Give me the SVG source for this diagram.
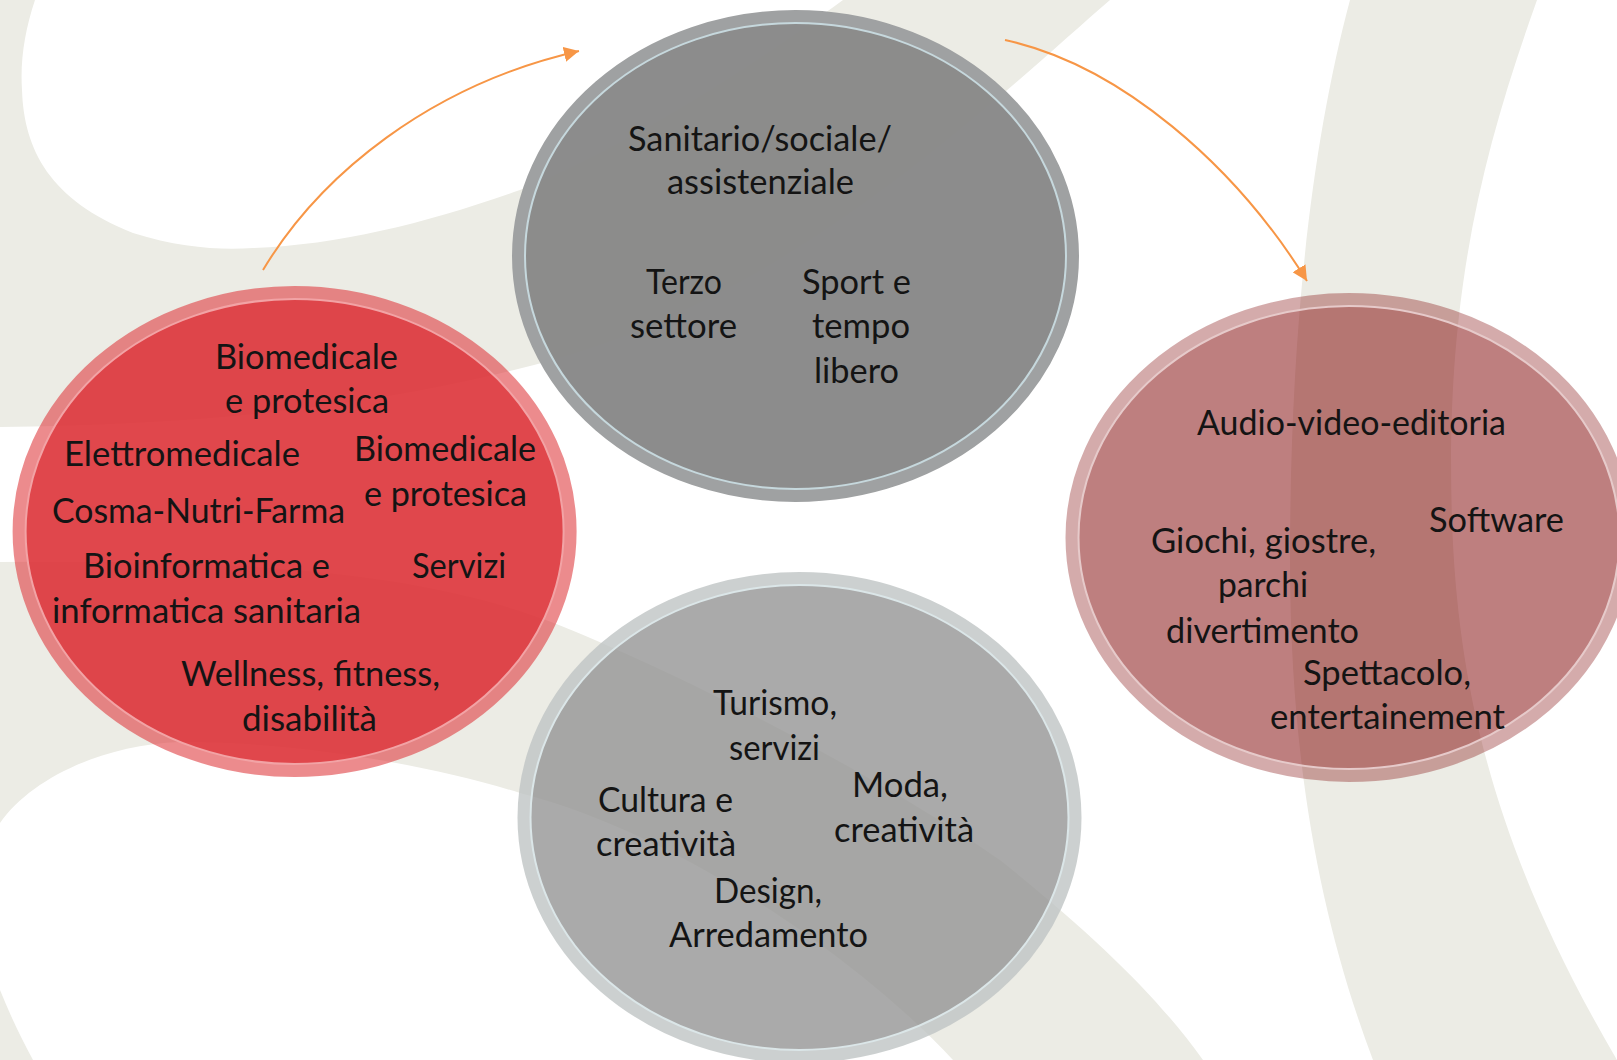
<svg xmlns="http://www.w3.org/2000/svg" width="1617" height="1060" viewBox="0 0 1617 1060">
<style>
.bg{fill:#ecece5;stroke:none}
.t{font-family:Lato,"Open Sans","Liberation Sans",sans-serif;font-size:34px;fill:#141414}
.ring{fill:none;stroke-width:13}
.inner{stroke-width:2}
.red .ring{stroke:#df3d41;stroke-opacity:.6}
.red .inner{fill:#dd3338;fill-opacity:.9;stroke:#f2a3a5}
.gtop .ring{stroke:#9fa1a2}
.gtop .inner{fill:#878787;fill-opacity:.96;stroke:#c6d8dd}
.rose .ring{stroke:#7d0000;stroke-opacity:.33}
.rose .inner{fill:#7d0000;fill-opacity:.5;stroke:#e6caca}
.gbot .ring{stroke:#bfc4c4;stroke-opacity:.8}
.gbot .inner{fill:#959595;fill-opacity:.8;stroke:#dbe6e8}
.arrow{fill:none;stroke:#f79646;stroke-width:2;marker-end:url(#ah)}
</style>
<defs>
<marker id="ah" viewBox="0 0 10 10" refX="10" refY="5" markerUnits="userSpaceOnUse" markerWidth="15" markerHeight="15" orient="auto">
<path d="M0,0 L10,5 L0,10 Z" fill="#f79646"/>
</marker>
</defs>
<rect width="1617" height="1060" fill="#ffffff"/>
<g id="background">
<path class="bg" d="M0,0 L35,0 C25,30 20,60 22,90 C24,150 50,200 133,233 C180,248 220,250 253,248 C340,245 430,222 520,190 C640,140 760,60 843,0 L1110,0 C1000,95 800,290 560,358 C380,408 200,425 0,427 Z"/>
<path class="bg" d="M0,562 C200,560 400,565 546,620 C700,680 900,790 1000,860 C1100,940 1160,1000 1203,1060 L953,1060 C880,980 700,840 520,793 C430,765 300,742 180,742 C100,745 30,780 0,823 Z"/>
<path class="bg" d="M0,990 C10,1015 22,1040 33,1060 L0,1060 Z"/>
<path class="bg" d="M1350,0 L1537,0 C1480,160 1445,300 1452,520 C1458,700 1500,860 1617,1060 L1373,1060 C1320,920 1290,760 1290,560 C1290,340 1310,150 1350,0 Z"/>
</g>
<g id="node-sanitario" class="gtop">
<ellipse class="ring" cx="795.5" cy="256" rx="277" ry="239.5"/>
<ellipse class="inner" cx="795.5" cy="256" rx="270.5" ry="233"/>
<text class="t" x="628" y="151" textLength="264" lengthAdjust="spacingAndGlyphs">Sanitario/sociale/</text>
<text class="t" x="667" y="194" textLength="187" lengthAdjust="spacingAndGlyphs">assistenziale</text>
<text class="t" x="646" y="294" textLength="76" lengthAdjust="spacingAndGlyphs">Terzo</text>
<text class="t" x="630" y="338" textLength="107" lengthAdjust="spacingAndGlyphs">settore</text>
<text class="t" x="802" y="294" textLength="109" lengthAdjust="spacingAndGlyphs">Sport e</text>
<text class="t" x="812" y="338" textLength="98" lengthAdjust="spacingAndGlyphs">tempo</text>
<text class="t" x="814" y="383" textLength="85" lengthAdjust="spacingAndGlyphs">libero</text>
</g>
<g id="node-biomedicale" class="red">
<ellipse class="ring" cx="294.6" cy="531.5" rx="275.5" ry="239"/>
<ellipse class="inner" cx="294.6" cy="531.5" rx="269" ry="232.5"/>
<text class="t" x="215" y="369" textLength="183" lengthAdjust="spacingAndGlyphs">Biomedicale</text>
<text class="t" x="225" y="413" textLength="164" lengthAdjust="spacingAndGlyphs">e protesica</text>
<text class="t" x="64" y="466" textLength="236" lengthAdjust="spacingAndGlyphs">Elettromedicale</text>
<text class="t" x="354" y="461" textLength="182" lengthAdjust="spacingAndGlyphs">Biomedicale</text>
<text class="t" x="364" y="506" textLength="163" lengthAdjust="spacingAndGlyphs">e protesica</text>
<text class="t" x="52" y="523" textLength="293" lengthAdjust="spacingAndGlyphs">Cosma-Nutri-Farma</text>
<text class="t" x="83" y="578" textLength="247" lengthAdjust="spacingAndGlyphs">Bioinformatica e</text>
<text class="t" x="412" y="578" textLength="94" lengthAdjust="spacingAndGlyphs">Servizi</text>
<text class="t" x="52" y="623" textLength="309" lengthAdjust="spacingAndGlyphs">informatica sanitaria</text>
<text class="t" x="181" y="686" textLength="259" lengthAdjust="spacingAndGlyphs">Wellness, fitness,</text>
<text class="t" x="242" y="731" textLength="135" lengthAdjust="spacingAndGlyphs">disabilità</text>
</g>
<g id="node-audio" class="rose">
<ellipse class="ring" cx="1349" cy="537.5" rx="277" ry="238"/>
<ellipse class="inner" cx="1349" cy="537.5" rx="270.5" ry="231.5"/>
<text class="t" x="1197" y="435" textLength="309" lengthAdjust="spacingAndGlyphs">Audio-video-editoria</text>
<text class="t" x="1429" y="532" textLength="135" lengthAdjust="spacingAndGlyphs">Software</text>
<text class="t" x="1151" y="553" textLength="225" lengthAdjust="spacingAndGlyphs">Giochi, giostre,</text>
<text class="t" x="1218" y="597" textLength="90" lengthAdjust="spacingAndGlyphs">parchi</text>
<text class="t" x="1166" y="643" textLength="193" lengthAdjust="spacingAndGlyphs">divertimento</text>
<text class="t" x="1303" y="685" textLength="168" lengthAdjust="spacingAndGlyphs">Spettacolo,</text>
<text class="t" x="1270" y="729" textLength="235" lengthAdjust="spacingAndGlyphs">entertainement</text>
</g>
<g id="node-turismo" class="gbot">
<ellipse class="ring" cx="799.5" cy="817.5" rx="275.5" ry="239"/>
<ellipse class="inner" cx="799.5" cy="817.5" rx="269" ry="232.5"/>
<text class="t" x="713" y="715" textLength="124" lengthAdjust="spacingAndGlyphs">Turismo,</text>
<text class="t" x="729" y="760" textLength="91" lengthAdjust="spacingAndGlyphs">servizi</text>
<text class="t" x="852" y="797" textLength="96" lengthAdjust="spacingAndGlyphs">Moda,</text>
<text class="t" x="834" y="842" textLength="140" lengthAdjust="spacingAndGlyphs">creatività</text>
<text class="t" x="598" y="812" textLength="135" lengthAdjust="spacingAndGlyphs">Cultura e</text>
<text class="t" x="596" y="856" textLength="140" lengthAdjust="spacingAndGlyphs">creatività</text>
<text class="t" x="714" y="903" textLength="108" lengthAdjust="spacingAndGlyphs">Design,</text>
<text class="t" x="669" y="947" textLength="199" lengthAdjust="spacingAndGlyphs">Arredamento</text>
</g>
<g id="connectors">
<path class="arrow" d="M263,270 C320,175 430,85 579,51"/>
<path class="arrow" d="M1005,40 C1120,65 1235,165 1307,281"/>
</g>
</svg>
